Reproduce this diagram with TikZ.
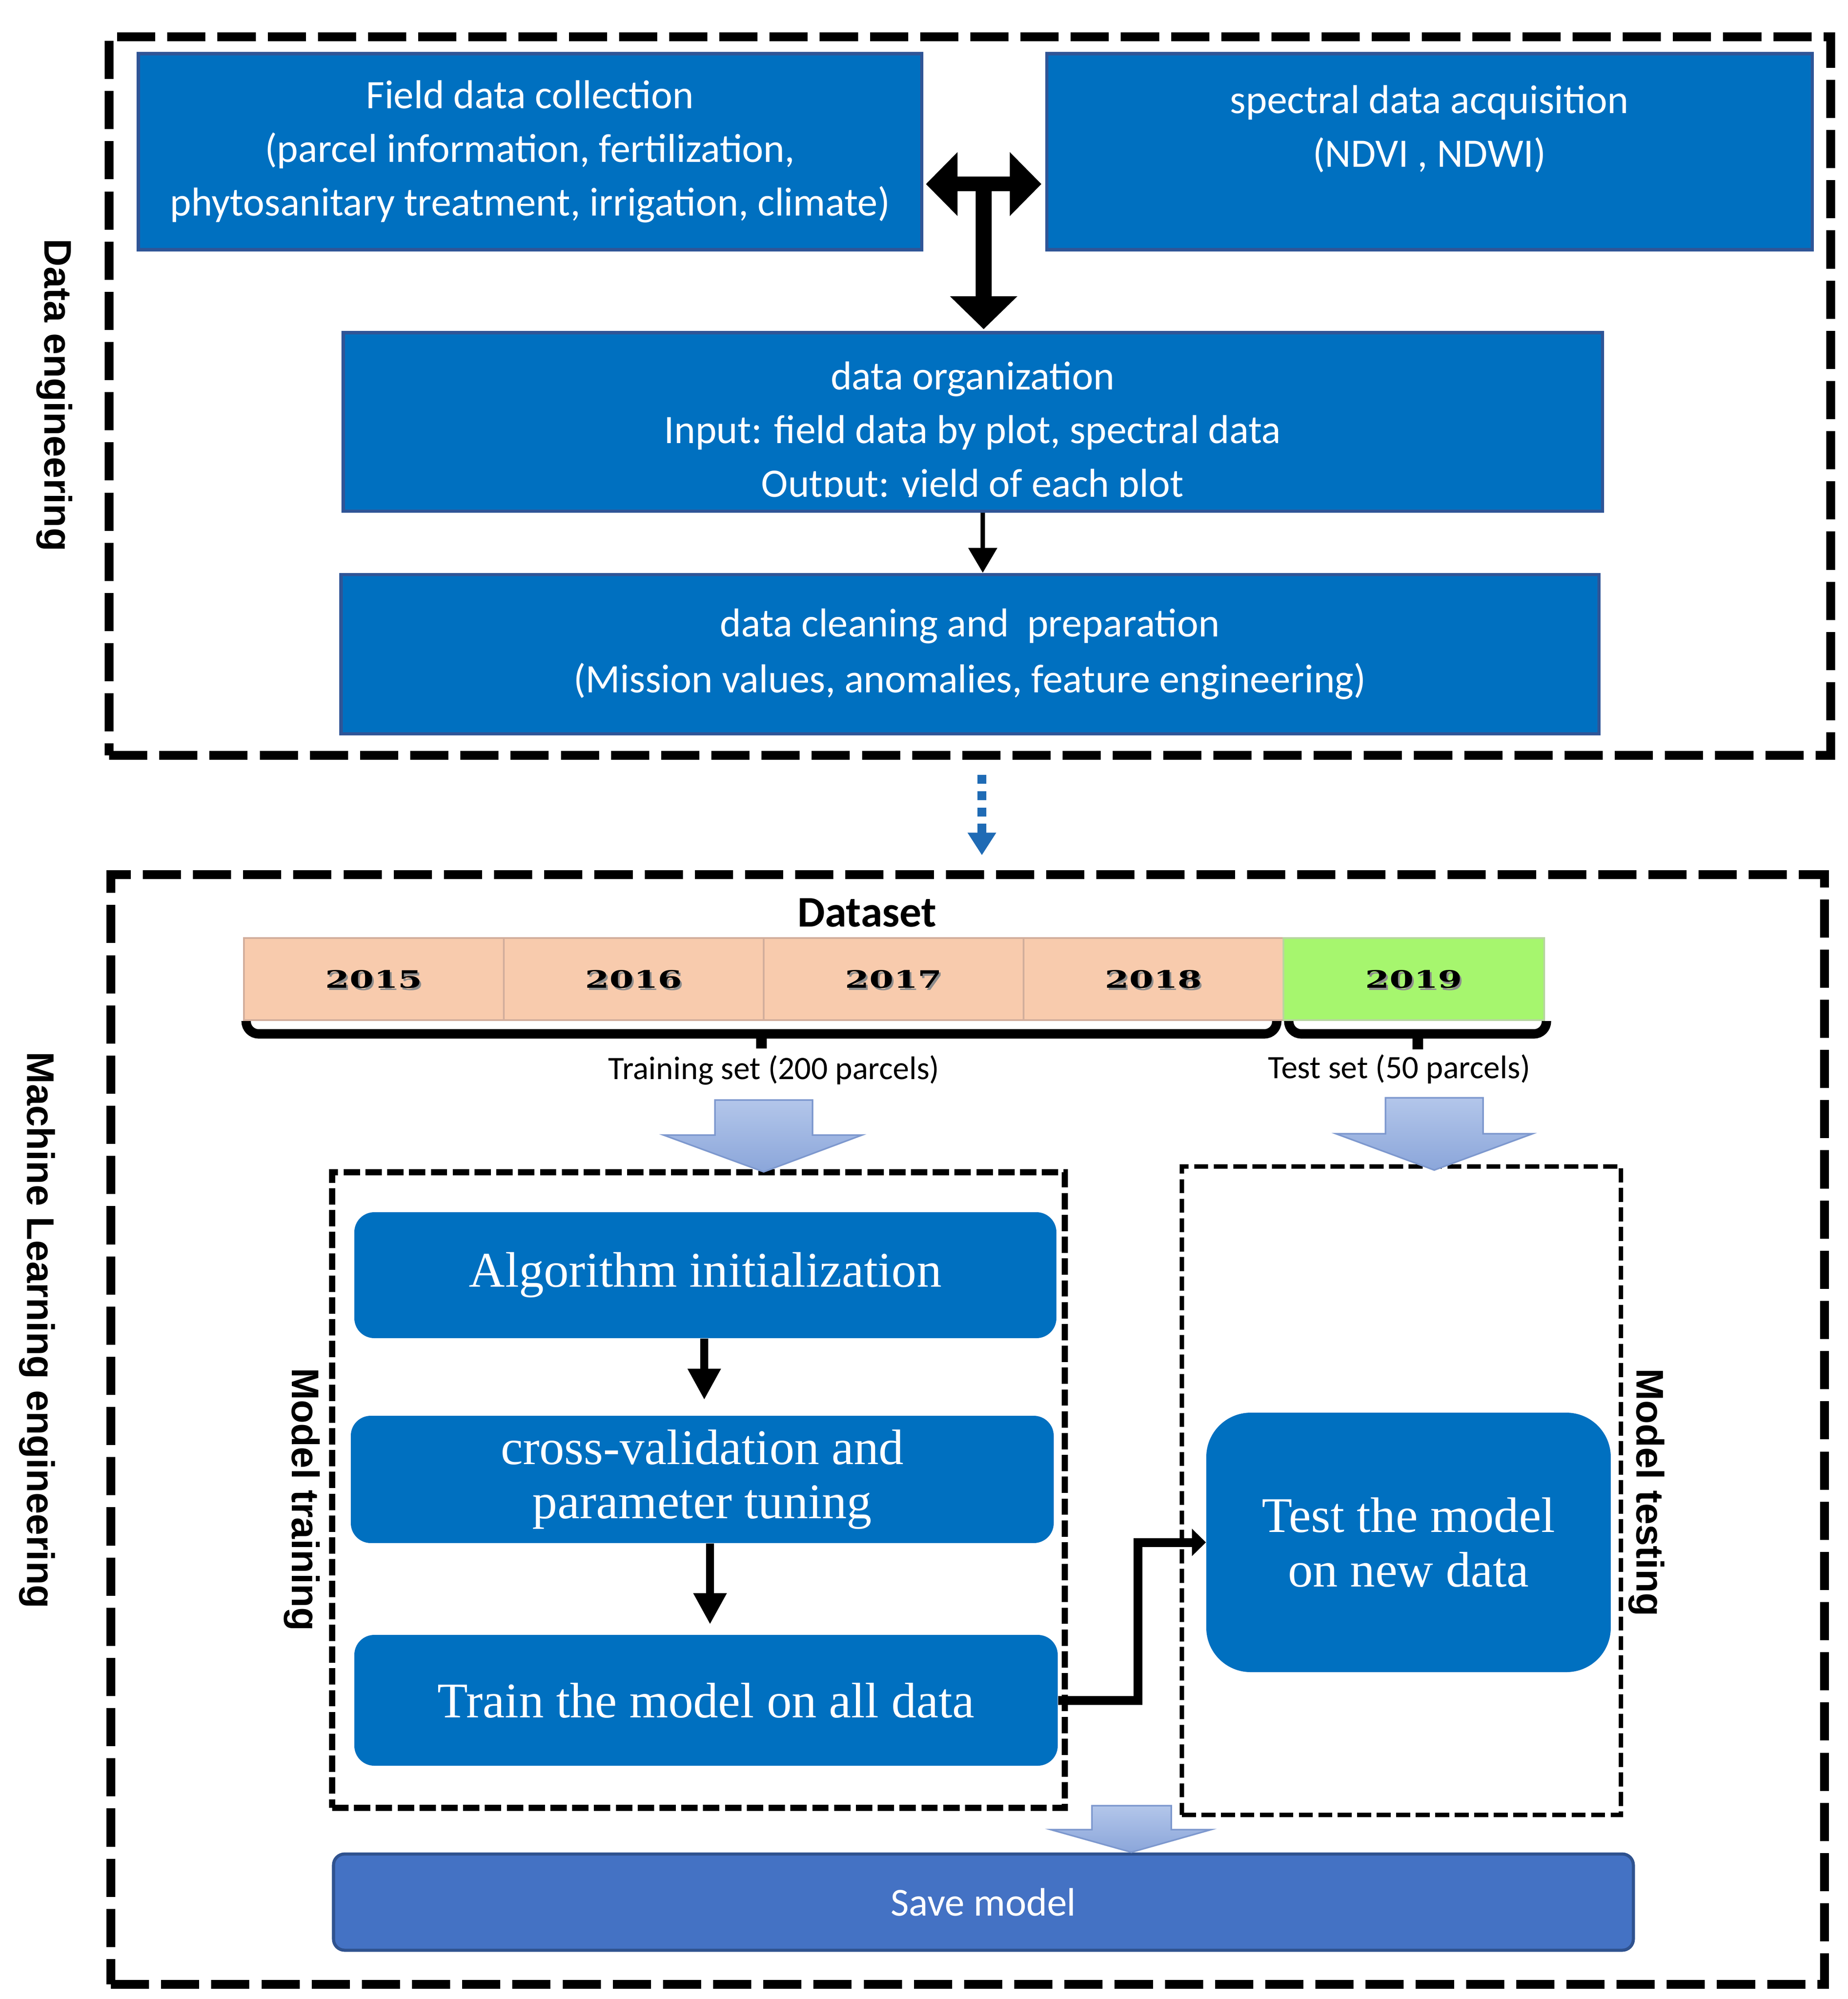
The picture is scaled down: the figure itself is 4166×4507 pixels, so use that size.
\documentclass[tikz,border=0pt]{standalone}
\usepackage{fontspec}
\usepackage{graphicx}
\setmainfont{Carlito}
\newfontfamily\serf{Liberation Serif}
\newfontfamily\arialf{Liberation Sans}
\newfontfamily\yearf{DejaVu Serif}
\usetikzlibrary{arrows.meta,fit,calc}
\definecolor{boxblue}{HTML}{0070C0}
\definecolor{boxedge}{HTML}{2F5597}
\definecolor{saveblue}{HTML}{4472C4}
\definecolor{saveedge}{HTML}{2F528F}
\definecolor{peach}{HTML}{F8CBAD}
\definecolor{peachedge}{HTML}{D2AE9C}
\definecolor{lgreen}{HTML}{A6F66E}
\definecolor{greenedge}{HTML}{B7D6A0}
\definecolor{arrtop}{HTML}{B3C6EA}
\definecolor{arrbot}{HTML}{8BA6DA}
\definecolor{arredge}{HTML}{7D98CE}
\definecolor{dotblue}{HTML}{1F6BB5}
\newcommand\yrlab[1]{\scalebox{1.45}[1]{\yearf\bfseries\fontsize{15.4}{18}\selectfont #1}}
\begin{document}
\begin{tikzpicture}[x=0.1mm,y=-0.1mm,
  topbox/.style={draw=boxedge, line width=2pt, fill=boxblue, inner sep=0},
  toptext/.style={text=white, font=\fontsize{25.9}{34.4}\selectfont, align=center, inner sep=0},
  rbox/.style={fill=boxblue, rounded corners=4.5mm, inner sep=0},
  rtext/.style={text=white, font=\serf\fontsize{32}{34.8}\selectfont, align=center, inner sep=0},
  sidelabel/.style={rotate=-90, font=\arialf\bfseries\fontsize{24.7}{28}\selectfont, inner sep=0},
  outerbox/.style={draw, line width=5.5pt, dash pattern=on 24.5pt off 7.7pt, inner sep=0},
  trainbox/.style={draw, line width=4pt, dash pattern=on 10.5pt off 3.5pt, inner sep=0},
  testbox/.style={draw, line width=2.8pt, dash pattern=on 9pt off 3.5pt, inner sep=0},
  yearcell/.style={fill=peach, draw=peachedge, line width=1pt, inner sep=0},
  blockarrow/.style={draw=arredge, line width=1pt, top color=arrtop, bottom color=arrbot},
  thickarrow/.style={line width=5pt, -{Triangle[width=20pt,length=20pt]}},
  brace/.style={line width=6pt, rounded corners=8pt}
]
\useasboundingbox (0,0) rectangle (4166,4507);
\fill[white] (0,0) rectangle (4166,4507);

% outer frames
\node[outerbox, fit={(246,83) (4128,1703)}] (de) {};
\node[outerbox, fit={(250,1972) (4114,4474)}] (ml) {};
\node[sidelabel] at (123,891) {Data engineering};
\node[sidelabel] at (84,2999) {Machine Learning engineering};

% data engineering boxes
\node[topbox, fit={(312,121) (2078,563)}] (field) {};
\node[toptext] at (field.center) {Field data collection\\(parcel information, fertilization,\\phytosanitary treatment, irrigation, climate)};
\node[topbox, fit={(2360,121) (4086,563)}] (spec) {};
\node[toptext] at (3223,291) {spectral data acquisition\\(NDVI , NDWI)};
\node[topbox, fit={(774,750) (3613,1152)}] (org) {};
\begin{scope}
\clip (774,750) rectangle (3613,1120);
\node[toptext] at (2193,975) {data organization\\Input: field data by plot, spectral data\\Output: yield of each plot};
\end{scope}
\node[topbox, fit={(769,1295) (3605,1654)}] (clean) {};
\node[toptext, font=\fontsize{25.9}{36}\selectfont] at (clean.center) {data cleaning and~ preparation\\(Mission values, anomalies, feature engineering)};

% T-shaped arrow between field/spectral and organization
\coordinate (tj) at (2218,415);
\fill (2088,415) -- (2159,343) -- (2159,398) -- (2277,398) -- (2277,343) -- (2348,415)
  -- (2277,487) -- (2277,431) -- (2236,431) -- (2236,668) -- (2294,668) -- (2218,742)
  -- (2142,668) -- (2200,668) -- (2200,431) -- (2159,431) -- (2159,487) -- cycle;

% org -> clean
\coordinate (ax) at (2216,0);
\draw[line width=2.8pt, -{Triangle[width=18pt,length=16pt]}] (org.south -| ax) -- (clean.north -| ax);

% dotted link between the frames
\coordinate (dx) at (2214,0);
\draw[dotblue, line width=5.7pt, dash pattern=on 5.7pt off 4.8pt, shorten <=9.7pt, shorten >=9.7pt,
  -{Triangle[width=17.4pt,length=14.5pt]}] (de.south -| dx) -- (ml.north -| dx);

% dataset
\node[font=\bfseries\fontsize{28}{32}\selectfont] at (1955,2058) {Dataset};
\node[yearcell, fit={(550,2115) (1136,2300)}] (y15) {};
\node[yearcell, fit={(1136,2115) (1722,2300)}] (y16) {};
\node[yearcell, fit={(1722,2115) (2308,2300)}] (y17) {};
\node[yearcell, fit={(2308,2115) (2894,2300)}] (y18) {};
\node[yearcell, fill=lgreen, draw=greenedge, fit={(2894,2115) (3482,2300)}] (y19) {};
\foreach \c/\t in {y15/2015,y16/2016,y17/2017,y18/2018,y19/2019}{
  \node[text=black!45, inner sep=0] at ($(\c.center)+(4,5)$) {\yrlab{\t}};
  \node[inner sep=0] at (\c.center) {\yrlab{\t}};
}
\draw[brace] (555,2302) -- (555,2331) -- (2879,2331) -- (2879,2302);
\draw[line width=7pt] (1717,2331) -- (1717,2364);
\draw[brace] (2906,2302) -- (2906,2331) -- (3487,2331) -- (3487,2302);
\draw[line width=7pt] (3197,2331) -- (3197,2366);
\node[font=\fontsize{21}{24}\selectfont] at (1745,2413) {Training set (200 parcels)};
\node[font=\fontsize{21}{24}\selectfont] at (3155,2410) {Test set (50 parcels)};

% model training / testing frames
\node[trainbox, fit={(749,2643) (2401,4076)}] (mtb) {};
\node[testbox, fit={(2665,2630) (3655,4092)}] (mts) {};
\node[sidelabel] at (681,3381) {Model training};
\node[sidelabel] at (3713,3365) {Model testing};

% block arrows
\path[blockarrow] (1612,2480) -- (1832,2480) -- (1832,2559) -- (1944,2559) -- (1722,2642)
  -- (1496,2559) -- (1612,2559) -- cycle;
\path[blockarrow] (3124,2475) -- (3344,2475) -- (3344,2556) -- (3456,2556) -- (3234,2638)
  -- (3012,2556) -- (3124,2556) -- cycle;

% training steps
\node[rbox, fit={(799,2733) (2382,3017)}] (algo) {};
\node[rtext] at (algo.center) {Algorithm initialization};
\node[rbox, fit={(791,3192) (2376,3479)}] (cv) {};
\node[rtext] at (cv.center) {cross-validation and\\parameter tuning};
\node[rbox, fit={(799,3686) (2385,3981)}] (train) {};
\node[rtext] at (train.center) {Train the model on all data};
\node[rbox, rounded corners=10mm, fit={(2720,3185) (3632,3770)}] (test) {};
\node[rtext] at (test.center) {Test the model\\on new data};

\coordinate (a1) at (1588,0);
\coordinate (a2) at (1601,0);
\draw[thickarrow, shorten >=10pt] (algo.south -| a1) -- (cv.north -| a1);
\draw[thickarrow, shorten >=6.5pt] (cv.south -| a2) -- (train.north -| a2);
\draw[line width=5.7pt, -{Triangle[width=17pt,length=9pt]}] (train.east) -- ++(180,0) |- (test.west);

% save
\node[fill=saveblue, draw=saveedge, line width=2pt, rounded corners=2.5mm, inner sep=0,
  fit={(752,4180) (3683,4397)}] (save) {};
\node[text=white, font=\fontsize{25.5}{30}\selectfont, inner sep=0] at (save.center) {Save model};
\path[blockarrow] (2462,4071) -- (2641,4071) -- (2641,4125) -- (2731,4125) -- (2551,4176)
  -- (2369,4125) -- (2462,4125) -- cycle;
\end{tikzpicture}
\end{document}
